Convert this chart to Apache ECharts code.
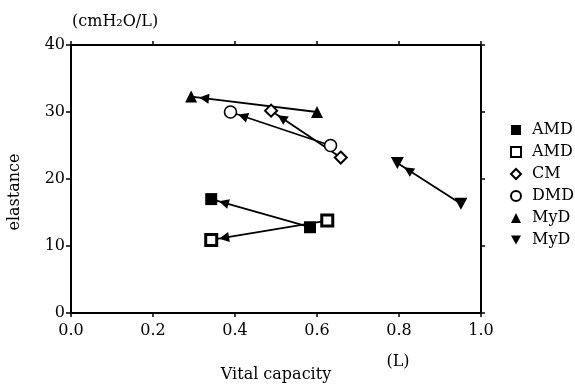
<!DOCTYPE html>
<html>
<head>
<meta charset="utf-8">
<script src="https://cdn.jsdelivr.net/npm/echarts@6/dist/echarts.min.js"></script>
<style>
    html, body { margin: 0; padding: 0; background: #fff; }
    #chart { width: 575px; height: 388px; }
</style>
</head>
<body>
<div id="chart"></div>
<script>
// [vital capacity (L), elastance (cmH2O/L)] - arrow runs from the 2nd point to the 1st
const amdFilled = [[0.342, 17.0], [0.583, 12.8]]
const amdOpen = [[0.342, 10.9], [0.625, 13.8]]
const cm = [[0.488, 30.2], [0.658, 23.2]]
const dmd = [[0.389, 30.0], [0.633, 25.0]]
const mydUp = [[0.293, 32.3], [0.600, 30.0]]
const mydDown = [[0.796, 22.4], [0.951, 16.3]]

const xTicks = [0, 0.2, 0.4, 0.6, 0.8, 1.0]
const yTicks = [0, 10, 20, 30, 40]

const font = 'DejaVu Serif'
const downTri = 'path://M0,0L10,0L5,9Z'

const myChart = echarts.init(document.getElementById('chart'))

function group(name, data, symbol, size, hollow, bw) {
    return {
        name: name,
        type: 'scatter',
        data: data,
        symbol: symbol,
        symbolSize: size,
        z: 3,
        itemStyle: hollow
            ? { color: '#fff', borderColor: '#000', borderWidth: bw, opacity: 1 }
            : { color: '#000', opacity: 1 },
        markLine: {
            silent: true,
            z: 1,
            symbol: ['none', 'triangle'],
            symbolSize: 10,
            symbolOffset: [0, [0, 13]],
            label: { show: false },
            lineStyle: { color: '#000', width: 1.8, type: 'solid' },
            itemStyle: { color: '#000' },
            data: [[{ coord: data[1] }, { coord: data[0] }]]
        }
    }
}

const axisLine = { show: true, onZero: false, lineStyle: { color: '#000', width: 2 } }
const tick = { show: true, length: 4, lineStyle: { color: '#000', width: 1.5 } }

const option = {
    animation: false,
    backgroundColor: '#fff',
    grid: {
        left: 71,
        right: 94,
        top: 45,
        bottom: 70
    },
    legend: {
        orient: 'vertical',
        left: 505,
        top: 117,
        itemWidth: 10,
        itemHeight: 10,
        itemGap: 6,
        formatter: (n) => n.trim(),
        textStyle: { fontFamily: font, fontSize: 16, color: '#000', padding: [0, 0, 0, 6] }
    },
    xAxis: [
        {
            type: 'value',
            min: xTicks[0],
            max: xTicks[xTicks.length - 1],
            interval: 0.2,
            name: 'Vital capacity',
            nameLocation: 'middle',
            nameGap: 54,
            nameTextStyle: { fontFamily: font, fontSize: 16, color: '#000' },
            axisLine: axisLine,
            axisTick: tick,
            axisLabel: { margin: 10, fontFamily: font, fontSize: 16, color: '#000', formatter: (v) => v.toFixed(1) },
            splitLine: { show: false }
        },
        {
            type: 'value',
            position: 'top',
            min: xTicks[0],
            max: xTicks[xTicks.length - 1],
            interval: 0.2,
            axisLine: axisLine,
            axisTick: tick,
            axisLabel: { show: false },
            splitLine: { show: false }
        }
    ],
    yAxis: [
        {
            type: 'value',
            min: yTicks[0],
            max: yTicks[yTicks.length - 1],
            interval: 10,
            axisLine: axisLine,
            axisTick: { show: true, length: 5, lineStyle: { color: '#000', width: 1.5 } },
            axisLabel: { margin: 6, fontFamily: font, fontSize: 16, color: '#000' },
            splitLine: { show: false }
        },
        {
            type: 'value',
            position: 'right',
            min: yTicks[0],
            max: yTicks[yTicks.length - 1],
            interval: 10,
            axisLine: axisLine,
            axisTick: tick,
            axisLabel: { show: false },
            splitLine: { show: false }
        }
    ],
    graphic: [
        {
            type: 'text',
            left: 72,
            top: 14,
            style: { text: '(cmH₂O/L)', fontFamily: font, fontSize: 16, fill: '#000' }
        },
        {
            type: 'text',
            x: 15,
            y: 192,
            rotation: Math.PI / 2,
            style: { text: 'elastance', fontFamily: font, fontSize: 16, fill: '#000', align: 'center', verticalAlign: 'middle' }
        },
        {
            type: 'text',
            x: 398,
            y: 362,
            style: { text: '(L)', fontFamily: font, fontSize: 16, fill: '#000', align: 'center', verticalAlign: 'middle' }
        }
    ],
    series: [
        group('AMD', amdFilled, 'rect', 12, false),
        group('AMD ', amdOpen, 'rect', 11, true, 3),
        group('CM', cm, 'diamond', 12, true, 2),
        group('DMD', dmd, 'circle', 12, true, 1.6),
        group('MyD', mydUp, 'triangle', 12, false),
        group('MyD ', mydDown, downTri, [13, 12], false)
    ]
}

myChart.setOption(option)
</script>
</body>
</html>
